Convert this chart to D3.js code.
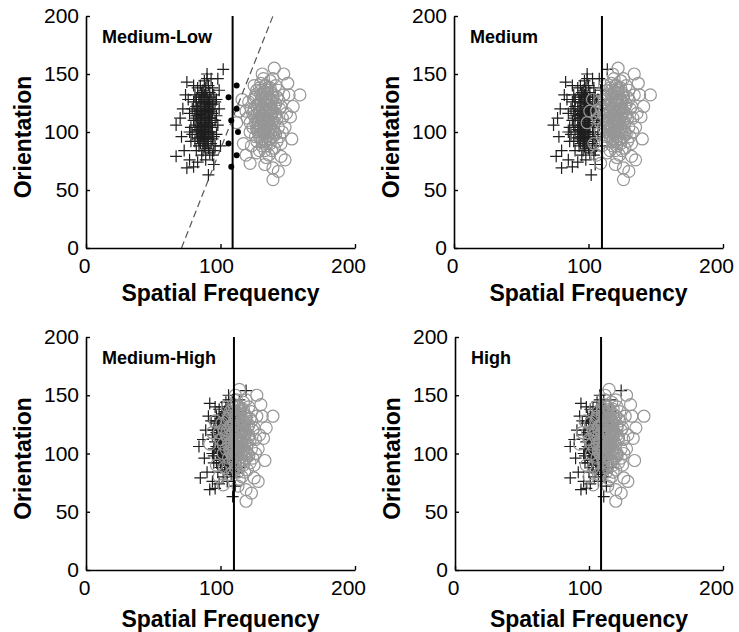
<!DOCTYPE html>
<html>
<head>
<meta charset="utf-8">
<script src="https://cdn.jsdelivr.net/npm/d3@7"></script>
<style>
body { margin: 0; background: #fff; }
svg text { font-family: "Liberation Sans", Arial, Helvetica, sans-serif; fill: #000; }
</style>
</head>
<body>
<div id="chart"></div>
<script>

// one panel per contrast level
const panelNames = ["Medium-Low", "Medium", "Medium-High", "High"];
const thresholds = [109, 110, 110, 109];
const xTicks = [0, 100, 200];
const yTicks = [0, 50, 100, 150, 200];

// orientation of each stimulus (same stimuli in every panel)
const orientPlus = [108,115,98,122,130,92,112,101,120,110,
    86,140,125,104,95,118,88,132,100,136,
    82,106,114,120,124,88,128,100,94,144,
    80,116,104,96,114,110,102,134,92,106,
    140,76,126,90,98,130,120,112,126,84,
    146,116,80,122,106,138,96,90,132,98,
    128,86,106,100,96,98,118,118,128,138,
    84,124,112,88,110,128,104,140,112,104,
    120,134,118,92,92,116,84,94,132,104,
    118,94,98,138,128,116,104,128,100,100,
    154,106,79,69,63,143,150,120,84,76,
    72,96,146,132,88,70,146,112,136,74,
    110,118,104,126,96,120,106,130,112,92,
    122,100,114,134,100,116,126,90,108,120,
    112,104,124,102,112,132,96,94,128,110,
    114,108,118,100,128,122,98,130,116,126];

const orientCirc = [112,120,104,96,130,116,108,88,138,124,
    104,98,126,116,86,142,108,92,122,134,
    100,80,114,130,128,106,146,84,96,120,
    90,112,100,140,136,92,112,102,126,120,
    100,146,110,96,128,118,78,118,88,104,
    110,136,104,92,124,126,114,132,120,82,
    140,108,106,84,140,128,132,96,102,124,
    88,118,150,102,122,90,114,104,118,112,
    130,100,94,132,116,84,124,132,108,110,
    136,138,120,94,98,114,116,100,104,144,
    132,59,155,113,79,69,73,108,132,94,
    76,128,142,66,90,122,118,150,80,72,
    118,106,128,114,96,110,134,102,124,90,
    120,116,100,130,122,98,138,110,94,126,
    104,114,108,140,118,92,130,120,112,100,
    134,116,124,102,108,128,112,100,136,120];

// spatial frequency of the "+" class, per panel
const sfPlusMedLow = [88,85,92,82,90,87,93,84,95,80,
    89,91,86,94,83,88,96,81,90,87,
    92,85,97,79,89,84,93,82,91,88,
    86,94,78,95,83,90,87,92,81,98,
    85,89,80,93,88,84,91,86,96,82,
    90,77,94,87,92,83,89,85,95,79,
    88,91,81,93,86,97,84,90,76,94,
    87,92,82,88,96,85,89,80,91,83,
    99,86,93,78,90,87,95,84,88,91,
    81,94,85,89,82,92,86,97,77,88,
    102,67,67,75,91,75,90,72,73,77,
    95,71,98,74,100,80,93,70,99,83,
    86,89,84,91,88,83,90,87,92,85,
    88,93,82,89,86,91,84,90,87,92,
    85,88,94,83,89,86,91,87,90,84,
    88,93,85,89,82,90,87,92,86,88];

const sfPlusMed = [97,94,101,90,99,96,103,93,105,88,
    98,100,95,104,92,97,106,89,99,96,
    101,94,107,87,98,93,103,90,100,97,
    95,104,86,105,92,99,96,101,89,108,
    94,98,88,103,97,93,100,95,106,90,
    99,85,104,96,101,92,98,94,105,87,
    97,100,89,103,95,107,93,99,84,104,
    96,101,90,97,106,94,98,88,100,92,
    109,95,103,86,99,96,105,93,97,100,
    89,104,94,98,90,101,95,107,85,97,
    114,74,76,80,102,83,99,79,80,85,
    105,78,108,82,110,88,103,77,109,92,
    95,98,93,100,97,92,99,96,101,94,
    97,103,90,98,95,100,93,99,96,101,
    94,97,104,92,98,95,100,96,99,93,
    97,103,94,98,90,99,96,101,95,97];

const sfPlusMedHigh = [104,101,108,98,106,103,109,100,111,96,
    105,107,102,110,99,104,112,97,106,103,
    108,101,113,95,105,100,109,98,107,104,
    102,110,95,111,99,106,103,108,97,114,
    101,105,96,109,104,100,107,102,112,98,
    106,94,110,103,108,99,105,101,111,95,
    104,107,97,109,102,113,100,106,93,110,
    103,108,98,104,112,101,105,96,107,99,
    114,102,109,95,106,103,111,100,104,107,
    97,110,101,105,98,108,102,113,94,104,
    119,84,85,92,109,92,106,89,90,94,
    111,88,114,91,115,96,109,87,114,99,
    102,105,100,107,104,99,106,103,108,101,
    104,109,98,105,102,107,100,106,103,108,
    101,104,110,99,105,102,107,103,106,100,
    104,109,101,105,98,106,103,108,102,104];

const sfPlusHigh = [106,103,110,100,108,105,111,102,113,98,
    107,109,104,112,101,106,114,99,108,105,
    110,103,115,97,107,102,111,100,109,106,
    104,112,97,113,101,108,105,110,99,116,
    103,107,98,111,106,102,109,104,114,100,
    108,96,112,105,110,101,107,103,113,97,
    106,109,99,111,104,115,102,108,95,112,
    105,110,100,106,114,103,107,98,109,101,
    116,104,111,97,108,105,113,102,106,109,
    99,112,103,107,100,110,104,115,96,106,
    124,86,86,94,111,94,108,91,92,96,
    113,90,116,93,117,98,111,89,116,101,
    104,107,102,109,106,101,108,105,110,103,
    106,111,100,107,104,109,102,108,105,110,
    103,106,112,101,107,104,109,105,108,102,
    106,111,103,107,100,108,105,110,104,106];

// spatial frequency of the "o" class, per panel
const sfCircMedLow = [133,136,129,139,131,141,126,134,137,128,
    143,132,135,124,140,130,138,127,145,133,
    122,136,131,142,125,134,139,129,144,132,
    137,120,135,141,127,133,146,130,138,123,
    140,132,136,126,143,129,134,139,131,148,
    128,135,124,142,133,121,137,130,144,127,
    134,140,132,138,125,136,147,129,133,141,
    123,135,131,139,127,145,132,137,119,142,
    134,128,136,126,149,133,130,139,122,135,
    143,129,138,131,141,125,134,146,127,137,
    159,139,140,152,145,139,122,112,151,153,
    148,116,150,143,117,154,114,147,119,133,
    133,130,137,127,135,139,132,136,128,134,
    131,138,133,126,140,129,135,132,137,130,
    134,141,128,133,136,131,139,125,135,132,
    138,129,134,127,136,133,131,140,130,137];

const sfCircMed = [120,123,116,126,118,128,113,121,124,115,
    130,119,122,111,127,117,125,114,132,120,
    109,123,118,129,112,121,126,116,131,119,
    124,107,122,128,114,120,133,117,125,110,
    127,119,123,113,130,116,121,126,118,135,
    115,122,111,129,120,108,124,117,131,114,
    121,127,119,125,112,123,134,116,120,128,
    110,122,118,126,114,132,119,124,106,129,
    121,115,123,113,136,120,117,126,109,122,
    130,116,125,118,128,112,121,133,114,124,
    146,126,122,139,132,126,109,99,138,140,
    135,103,137,130,104,141,101,134,106,120,
    120,117,124,114,122,126,119,123,115,121,
    118,125,120,113,127,116,122,119,124,117,
    121,128,115,120,123,118,126,112,122,119,
    125,116,121,114,123,120,118,127,117,124];

const sfCircMedHigh = [113,116,109,119,111,121,106,114,117,108,
    123,112,115,104,120,110,118,107,125,113,
    102,116,111,122,105,114,119,109,124,112,
    117,100,115,121,107,113,126,110,118,103,
    120,112,116,106,123,109,114,119,111,128,
    108,115,104,122,113,101,117,110,124,107,
    114,120,112,118,105,116,127,109,113,121,
    103,115,111,119,107,125,112,117,99,122,
    114,108,116,106,129,113,110,119,102,115,
    123,109,118,111,121,105,114,126,107,117,
    139,119,114,132,125,119,102,92,131,133,
    128,96,130,123,97,134,94,127,99,113,
    113,110,117,107,115,119,112,116,108,114,
    111,118,113,106,120,109,115,112,117,110,
    114,121,108,113,116,111,119,105,115,112,
    118,109,114,107,116,113,111,120,110,117];

const sfCircHigh = [113,117,109,119,112,121,106,114,118,108,
    124,112,115,104,120,111,118,107,125,113,
    102,117,111,122,105,114,120,109,124,112,
    118,100,115,121,107,114,126,110,118,103,
    121,112,116,106,123,109,115,119,111,128,
    108,116,104,122,113,101,118,110,124,107,
    114,120,113,118,105,116,127,110,113,121,
    103,115,112,119,107,125,112,118,99,122,
    115,108,116,106,129,113,110,120,102,115,
    123,110,118,111,121,105,115,126,107,117,
    141,120,115,133,126,120,103,93,132,134,
    129,97,131,124,98,135,95,128,100,114,
    113,111,117,107,116,119,112,117,108,114,
    112,118,113,106,121,109,115,113,117,110,
    114,122,108,113,117,111,119,105,116,112,
    118,110,114,107,116,114,111,120,110,118];

// boundary points and dashed boundary (Medium-Low panel only)
const dotSF = [108,106,108,106,112,113,112,112];
const dotOri = [70,90,110,130,80,100,120,140];
const dashSF = [71, 139];
const dashOri = [0, 200];

const plusSeries = [sfPlusMedLow, sfPlusMed, sfPlusMedHigh, sfPlusHigh];
const circSeries = [sfCircMedLow, sfCircMed, sfCircMedHigh, sfCircHigh];

// panel positions on the page
const layout = [
    {left: 86, top: 16, w: 269, h: 232, titleDy: 53},
    {left: 454, top: 16, w: 269, h: 232, titleDy: 53},
    {left: 86, top: 337, w: 269, h: 233, titleDy: 57},
    {left: 455, top: 337, w: 268, h: 233, titleDy: 57}
];

const svg = d3.select("#chart")
    .append("svg")
    .attr("width", 739)
    .attr("height", 632);

panelNames.forEach((name, i) => {
    const L = layout[i];
    const g = svg.append("g").attr("transform", `translate(${L.left},${L.top})`);

    const xScale = d3.scaleLinear().domain([0, 200]).range([0, L.w]);
    const yScale = d3.scaleLinear().domain([0, 200]).range([L.h, 0]);

    // "+" markers
    const plusPts = plusSeries[i].map((v, j) => ({x: v, y: orientPlus[j]}));
    g.append("g").selectAll("path")
        .data(plusPts)
        .enter().append("path")
        .attr("d", d => `M${xScale(d.x) - 6},${yScale(d.y)}h12M${xScale(d.x)},${yScale(d.y) - 6}v12`)
        .attr("stroke", "#1e1e1e")
        .attr("stroke-width", 1.2)
        .attr("fill", "none");

    // "o" markers
    const circPts = circSeries[i].map((v, j) => ({x: v, y: orientCirc[j]}));
    g.append("g").selectAll("circle")
        .data(circPts)
        .enter().append("circle")
        .attr("cx", d => xScale(d.x))
        .attr("cy", d => yScale(d.y))
        .attr("r", 6)
        .attr("fill", "none")
        .attr("stroke", "#969696")
        .attr("stroke-width", 1.2);

    if (i === 0) {
        const dash = dashSF.map((v, j) => ({x: v, y: dashOri[j]}));
        g.append("path")
            .datum(dash)
            .attr("d", d3.line().x(d => xScale(d.x)).y(d => yScale(d.y)))
            .attr("fill", "none")
            .attr("stroke", "#555")
            .attr("stroke-width", 1.2)
            .attr("stroke-dasharray", "7,4");

        g.append("g").selectAll("circle")
            .data(dotSF.map((v, j) => ({x: v, y: dotOri[j]})))
            .enter().append("circle")
            .attr("cx", d => xScale(d.x))
            .attr("cy", d => yScale(d.y))
            .attr("r", 3)
            .attr("fill", "#000");
    }

    // decision threshold
    g.append("line")
        .attr("x1", xScale(thresholds[i]))
        .attr("x2", xScale(thresholds[i]))
        .attr("y1", yScale(0))
        .attr("y2", yScale(200))
        .attr("stroke", "#000")
        .attr("stroke-width", 2);

    // axes
    const xAxis = g.append("g")
        .attr("transform", `translate(0,${L.h})`)
        .call(d3.axisBottom(xScale).tickValues(xTicks).tickSize(-4).tickSizeOuter(0).tickPadding(10).tickFormat(d3.format("d")));
    xAxis.selectAll("text").attr("dx", d => -2 - d * 0.025);

    const yAxis = g.append("g")
        .call(d3.axisLeft(yScale).tickValues(yTicks).tickSize(-4).tickSizeOuter(0).tickPadding(7).tickFormat(d3.format("d")));

    [xAxis, yAxis].forEach(a => {
        a.attr("font-size", 21).attr("font-family", null);
        a.select(".domain").attr("stroke", "#000").attr("stroke-width", 1.6);
        a.selectAll(".tick line").attr("stroke", "#000").attr("stroke-width", 1.4);
        a.selectAll("text").attr("fill", "#000");
    });

    // titles
    g.append("text")
        .attr("x", 16)
        .attr("y", 27)
        .attr("font-size", 18)
        .attr("font-weight", "bold")
        .text(name);

    g.append("text")
        .attr("x", L.w / 2)
        .attr("y", L.h + L.titleDy)
        .attr("text-anchor", "middle")
        .attr("font-size", 23)
        .attr("font-weight", "bold")
        .text("Spatial Frequency");

    g.append("text")
        .attr("transform", `translate(-55,${L.h / 2 + 5}) rotate(-90)`)
        .attr("text-anchor", "middle")
        .attr("font-size", 23)
        .attr("font-weight", "bold")
        .text("Orientation");
});

</script>
</body>
</html>
